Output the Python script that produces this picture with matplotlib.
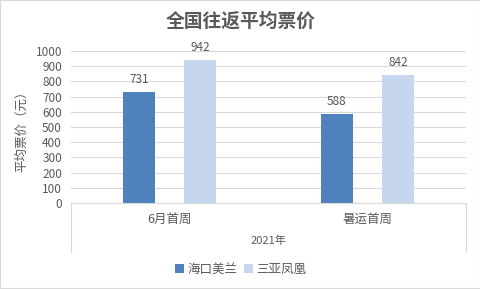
import matplotlib
matplotlib.use("Agg")
from matplotlib import pyplot as plt
from matplotlib.lines import Line2D
from matplotlib.patches import Rectangle
import numpy as np

plt.rcParams["font.family"] = ["Noto Sans CJK SC", "DejaVu Sans"]

categories = ["6月首周", "暑运首周"]
series_names = ["海口美兰", "三亚凤凰"]
haikou = [731, 588]
sanya = [942, 842]
yticks = list(range(0, 1001, 100))

TEXT = "#595959"
GRID = "#D9D9D9"
DARK = "#4F81BD"
LIGHT = "#C6D6EE"

fig = plt.figure(figsize=(4.81, 2.89), dpi=100)
W, H = 481, 289
ax = fig.add_axes([71 / W, (H - 203) / H, (466 - 71) / W, (203 - 51) / H])

x = np.arange(len(categories))
w = 0.162
off = 0.155
b1 = ax.bar(x - off, haikou, w, color=DARK, label=series_names[0], zorder=3)
b2 = ax.bar(x + off, sanya, w, color=LIGHT, label=series_names[1], zorder=3)

for bars in (b1, b2):
    for rect in bars:
        ax.annotate(f"{rect.get_height():.0f}",
                    (rect.get_x() + rect.get_width() / 2, rect.get_height()),
                    xytext=(0, 4), textcoords="offset points",
                    ha="center", va="bottom", fontsize=8.5, color=TEXT)

ax.set_xlim(-0.5, 1.5)
ax.set_ylim(0, 1000)
ax.set_yticks(yticks)
ax.yaxis.grid(True, color=GRID, linewidth=0.8, zorder=0)
ax.tick_params(axis="y", length=0, labelsize=8.5, labelcolor=TEXT, pad=6.5)
ax.set_xticks([])
for s in ["top", "right", "left"]:
    ax.spines[s].set_visible(False)
ax.spines["bottom"].set_color(GRID)
ax.spines["bottom"].set_linewidth(0.8)

# category box below the axis
y_low = -(252 - 203) / (203 - 51)
for xx in (0, 1):
    ax.add_line(Line2D([xx, xx], [0, y_low], transform=ax.transAxes,
                       color=GRID, linewidth=0.8, clip_on=False))
for i, c in enumerate(categories):
    ax.text(i, -(219 - 203) / (203 - 51), c, transform=ax.get_xaxis_transform(),
            ha="center", va="center", fontsize=9, color=TEXT)
ax.text(0.5, -(241 - 203) / (203 - 51), "2021年", transform=ax.transAxes,
        ha="center", va="center", fontsize=8, color=TEXT)

ax.set_ylabel("平均票价（元）", fontsize=9, color=TEXT)
ax.yaxis.set_label_coords(-(71 - 28) / (466 - 71), (203 - 128) / (203 - 51))

fig.text(241 / W, 1 - 21 / H, "全国往返平均票价", ha="center", va="center",
         fontsize=13.5, fontweight="bold", color=TEXT)

fig.legend(handles=[b1, b2], labels=series_names, loc="center",
           bbox_to_anchor=(241 / W, 1 - 269 / H), ncol=2, frameon=False,
           fontsize=9, handlelength=0.7, handleheight=0.7, handletextpad=0.3,
           columnspacing=0.5, labelcolor=TEXT)

fig.patches.append(Rectangle((0, 0), 1, 1, transform=fig.transFigure,
                             fill=False, edgecolor="#D9D9D9", linewidth=1.5))

fig.savefig("out.png", dpi=100)
